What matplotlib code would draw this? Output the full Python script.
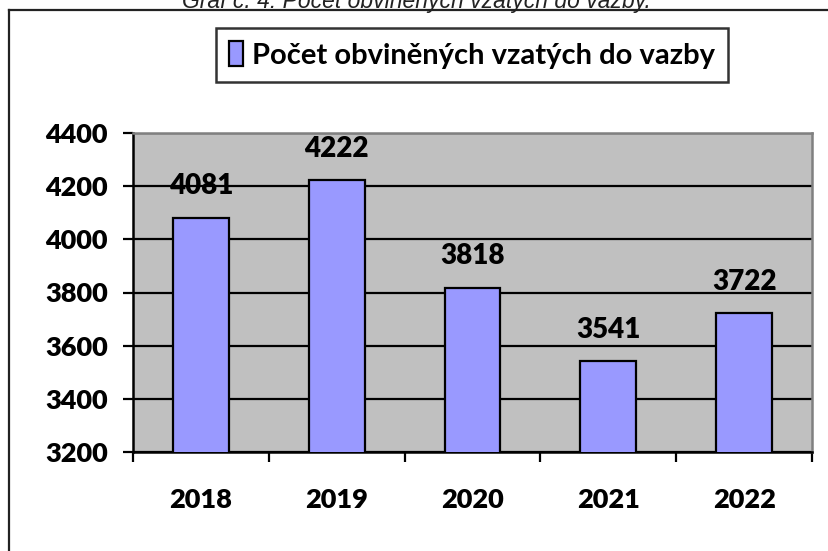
import matplotlib
matplotlib.use("Agg")
import matplotlib.pyplot as plt
from matplotlib.lines import Line2D
from matplotlib.font_manager import FontProperties

years = ["2018", "2019", "2020", "2021", "2022"]
values = [4081, 4222, 3818, 3541, 3722]
series_name = "Počet obviněných vzatých do vazby"
title_text = "Graf č. 4: Počet obviněných vzatých do vazby."
yticks = [3200, 3400, 3600, 3800, 4000, 4200, 4400]

W, H = 829, 551
fig = plt.figure(figsize=(W / 100, H / 100), dpi=100)
fig.patch.set_facecolor("white")

# outer chart frame (extends beyond right and bottom edges)
fig.add_artist(Line2D([9 / W, 9 / W], [0, 1 - 10 / H], transform=fig.transFigure,
                      color="#222222", lw=1.6))
fig.add_artist(Line2D([9 / W, 1], [1 - 10 / H, 1 - 10 / H], transform=fig.transFigure,
                      color="#222222", lw=1.6))

# cut-off title at the very top
fig.text(416 / W, 1 - 8 / H, title_text, ha="center", va="baseline",
         fontsize=16.5, style="italic", family="Liberation Sans", color="#222222")

left, right, top, bottom = 133, 812, 133, 452
ax = fig.add_axes([left / W, 1 - bottom / H, (right - left) / W, (bottom - top) / H])
ax.set_facecolor("#C0C0C0")

x = list(range(len(years)))
bars = ax.bar(x, values, width=0.41, bottom=0, color="#9999FF",
              edgecolor="black", linewidth=1.6, zorder=3, label=series_name)

ax.set_xlim(-0.5, len(years) - 0.5)
ax.set_ylim(3200, 4400)
ax.set_yticks(yticks)
ax.set_yticklabels([str(t) for t in yticks])
ax.yaxis.grid(True, color="black", linewidth=1.6, zorder=1)
ax.set_axisbelow(True)

ax.set_xticks([i - 0.5 for i in range(len(years) + 1)])
ax.set_xticklabels([])
ax.set_xticks(x, minor=True)
ax.set_xticklabels(years, minor=True)
ax.tick_params(axis="x", which="major", direction="out", length=7, width=1.6, color="black")
ax.tick_params(axis="x", which="minor", length=0, pad=26)
ax.tick_params(axis="y", direction="out", length=7, width=1.6, color="black", pad=11)

tick_fp = FontProperties(family="Lato", weight="heavy", size=19.5)
for lab in ax.yaxis.get_majorticklabels() + ax.xaxis.get_minorticklabels():
    lab.set_fontproperties(tick_fp)

for s in ["left", "bottom"]:
    ax.spines[s].set_color("black")
    ax.spines[s].set_linewidth(1.8)
for s in ["top", "right"]:
    ax.spines[s].set_color("#808080")
    ax.spines[s].set_linewidth(1.8)

val_fp = FontProperties(family="Lato", weight="heavy", size=20)
for xi, v in zip(x, values):
    ax.annotate(str(v), (xi, v), xytext=(0, 17), textcoords="offset points",
                ha="center", va="baseline", fontproperties=val_fp,
                color="black", zorder=5)

leg = fig.legend(handles=[bars], labels=[series_name],
                 loc="center", bbox_to_anchor=(472 / W, 1 - 55 / H),
                 frameon=True, fancybox=False, shadow=False,
                 prop=FontProperties(family="Lato", weight="bold", size=21),
                 handlelength=0.5, handleheight=0.9, handletextpad=0.3,
                 borderpad=0.45, borderaxespad=0)
leg.get_frame().set_edgecolor("black")
leg.get_frame().set_linewidth(1.8)

fig.savefig("out.png", dpi=100)
